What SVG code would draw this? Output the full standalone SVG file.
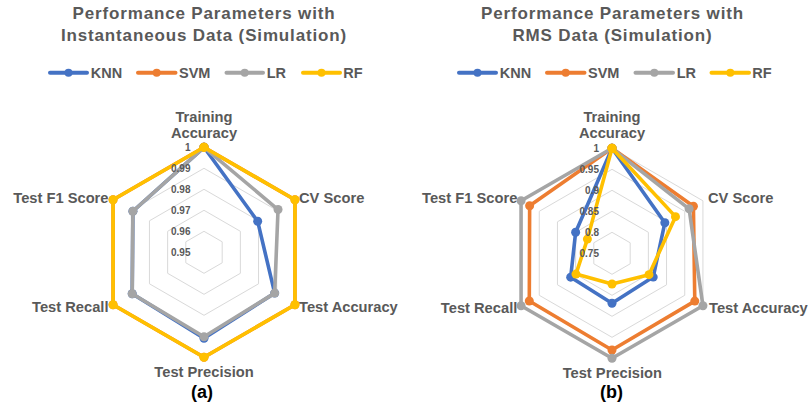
<svg xmlns="http://www.w3.org/2000/svg" width="808" height="410" viewBox="0 0 808 410">
<style>
text{font-family:"Liberation Sans",Arial,Helvetica,sans-serif;font-weight:bold;fill:#595959}
.title{font-size:17px;letter-spacing:0.85px;text-anchor:middle}
.leg{font-size:14.5px}
.ax{font-size:14.7px}
.mid{text-anchor:middle}
.end{text-anchor:end}
.tick{font-size:10px;text-anchor:end;dominant-baseline:central}
.cap{font-size:18px;fill:#000;text-anchor:middle}
.ring{fill:none;stroke:#D9D9D9;stroke-width:1}
.s{fill:none;stroke-width:3.6;stroke-linejoin:round}
.knn{stroke:#4472C4;marker-start:url(#m-knn);marker-mid:url(#m-knn);marker-end:url(#m-knn)}
.svm{stroke:#ED7D31;marker-start:url(#m-svm);marker-mid:url(#m-svm);marker-end:url(#m-svm)}
.lr{stroke:#A5A5A5;marker-start:url(#m-lr);marker-mid:url(#m-lr);marker-end:url(#m-lr)}
.rf{stroke:#FFC000;marker-start:url(#m-rf);marker-mid:url(#m-rf);marker-end:url(#m-rf)}
.ll{stroke-width:4;stroke-linecap:round}
</style>
<defs>
<marker id="m-knn" markerWidth="10" markerHeight="10" refX="5" refY="5" markerUnits="userSpaceOnUse" overflow="visible"><circle cx="5" cy="5" r="4.5" fill="#4472C4"/></marker>
<marker id="m-svm" markerWidth="10" markerHeight="10" refX="5" refY="5" markerUnits="userSpaceOnUse" overflow="visible"><circle cx="5" cy="5" r="4.5" fill="#ED7D31"/></marker>
<marker id="m-lr" markerWidth="10" markerHeight="10" refX="5" refY="5" markerUnits="userSpaceOnUse" overflow="visible"><circle cx="5" cy="5" r="4.5" fill="#A5A5A5"/></marker>
<marker id="m-rf" markerWidth="10" markerHeight="10" refX="5" refY="5" markerUnits="userSpaceOnUse" overflow="visible"><circle cx="5" cy="5" r="4.5" fill="#FFC000"/></marker>
<g id="rings">
<polygon class="ring" points="0,-21 18.19,-10.5 18.19,10.5 0,21 -18.19,10.5 -18.19,-10.5"/>
<polygon class="ring" points="0,-42 36.37,-21 36.37,21 0,42 -36.37,21 -36.37,-21"/>
<polygon class="ring" points="0,-63 54.56,-31.5 54.56,31.5 0,63 -54.56,31.5 -54.56,-31.5"/>
<polygon class="ring" points="0,-84 72.75,-42 72.75,42 0,84 -72.75,42 -72.75,-42"/>
<polygon class="ring" points="0,-105 90.93,-52.5 90.93,52.5 0,105 -90.93,52.5 -90.93,-52.5"/>
</g>
</defs>
<rect width="808" height="410" fill="#fff"/>

<!-- Chart (a) -->
<g id="chart-a">
<g id="title-a">
<text class="title" x="204" y="19">Performance Parameters with</text>
<text class="title" x="204" y="40.5">Instantaneous Data (Simulation)</text>
</g>
<g id="legend-a">
<line class="ll" x1="50" y1="72.7" x2="87" y2="72.7" stroke="#4472C4"/><circle cx="68.5" cy="72.7" r="4" fill="#4472C4"/><text class="leg" x="90.7" y="78">KNN</text>
<line class="ll" x1="138" y1="72.7" x2="175.5" y2="72.7" stroke="#ED7D31"/><circle cx="156.7" cy="72.7" r="4" fill="#ED7D31"/><text class="leg" x="179" y="78">SVM</text>
<line class="ll" x1="226.5" y1="72.7" x2="263" y2="72.7" stroke="#A5A5A5"/><circle cx="244.7" cy="72.7" r="4" fill="#A5A5A5"/><text class="leg" x="266.7" y="78">LR</text>
<line class="ll" x1="303" y1="72.7" x2="340" y2="72.7" stroke="#FFC000"/><circle cx="321.5" cy="72.7" r="4" fill="#FFC000"/><text class="leg" x="343.3" y="78">RF</text>
</g>
<g id="axis-labels-a">
<text class="ax mid" x="204" y="121.7">Training</text>
<text class="ax mid" x="204" y="137.7">Accuracy</text>
<text class="ax" x="299" y="202.5">CV Score</text>
<text class="ax" x="299" y="312">Test Accuracy</text>
<text class="ax mid" x="204" y="376.5">Test Precision</text>
<text class="ax end" x="108.5" y="312">Test Recall</text>
<text class="ax end" x="108.5" y="202.5">Test F1 Score</text>
</g>
<g transform="translate(204,252.3)">
<use href="#rings"/>
<g id="series-a">
<polygon id="a-knn" class="s knn" points="0,-105 53.69,-31 70.67,40.8 0,86 -71.79,41.45 -71.10,-41.05"/>
<polygon id="a-svm" class="s svm" points="0,-105 90.93,-52.5 90.93,52.5 0,105 -90.93,52.5 -90.93,-52.5"/>
<polygon id="a-lr" class="s lr" points="0,-105 74.04,-42.75 70.67,40.8 0,84.4 -71.79,41.45 -71.10,-41.05"/>
<polygon id="a-rf" class="s rf" points="0,-105 90.93,-52.5 90.93,52.5 0,105 -90.93,52.5 -90.93,-52.5"/>
</g>
<g id="ticks-a">
<text class="tick" x="-13.5" y="-105">1</text>
<text class="tick" x="-13.5" y="-84">0.99</text>
<text class="tick" x="-13.5" y="-63">0.98</text>
<text class="tick" x="-13.5" y="-42">0.97</text>
<text class="tick" x="-13.5" y="-21">0.96</text>
<text class="tick" x="-13.5" y="0">0.95</text>
</g>
</g>
<text class="cap" x="202" y="397.5">(a)</text>
</g>

<!-- Chart (b) -->
<g id="chart-b">
<g id="title-b">
<text class="title" x="612.5" y="19">Performance Parameters with</text>
<text class="title" x="612.5" y="40.5">RMS Data (Simulation)</text>
</g>
<g id="legend-b">
<line class="ll" x1="459" y1="72.7" x2="496" y2="72.7" stroke="#4472C4"/><circle cx="477.5" cy="72.7" r="4" fill="#4472C4"/><text class="leg" x="499.7" y="78">KNN</text>
<line class="ll" x1="547" y1="72.7" x2="584.5" y2="72.7" stroke="#ED7D31"/><circle cx="565.7" cy="72.7" r="4" fill="#ED7D31"/><text class="leg" x="588" y="78">SVM</text>
<line class="ll" x1="635.5" y1="72.7" x2="673" y2="72.7" stroke="#A5A5A5"/><circle cx="654.3" cy="72.7" r="4" fill="#A5A5A5"/><text class="leg" x="676.7" y="78">LR</text>
<line class="ll" x1="711.5" y1="72.7" x2="749" y2="72.7" stroke="#FFC000"/><circle cx="730.3" cy="72.7" r="4" fill="#FFC000"/><text class="leg" x="752.3" y="78">RF</text>
</g>
<g id="axis-labels-b">
<text class="ax mid" x="612" y="121.7">Training</text>
<text class="ax mid" x="612" y="137.7">Accuracy</text>
<text class="ax" x="708" y="203">CV Score</text>
<text class="ax" x="709" y="313">Test Accuracy</text>
<text class="ax mid" x="612.3" y="378.3">Test Precision</text>
<text class="ax end" x="517.3" y="313">Test Recall</text>
<text class="ax end" x="517.3" y="203">Test F1 Score</text>
</g>
<g transform="translate(612,253.3)">
<use href="#rings"/>
<g id="series-b">
<polygon id="b-knn" class="s knn" points="0,-105 52.83,-30.5 41.22,23.8 0,50 -41.31,23.85 -36.37,-21"/>
<polygon id="b-svm" class="s svm" points="0,-105 81.41,-47 82.79,47.8 0,96.7 -82.71,47.75 -82.36,-47.55"/>
<polygon id="b-lr" class="s lr" points="0,-105 77.08,-44.5 90.93,52.5 0,105 -90.93,52.5 -90.93,-52.5"/>
<polygon id="b-rf" class="s rf" points="0,-105 63.48,-36.65 36.98,21.35 0,30.7 -36.03,20.8 -24.6,-14.2"/>
</g>
<g id="ticks-b">
<text class="tick" x="-13" y="-105">1</text>
<text class="tick" x="-13" y="-84">0.95</text>
<text class="tick" x="-13" y="-63">0.9</text>
<text class="tick" x="-13" y="-42">0.85</text>
<text class="tick" x="-13" y="-21">0.8</text>
<text class="tick" x="-13" y="0">0.75</text>
</g>
</g>
<text class="cap" x="611.5" y="398">(b)</text>
</g>
</svg>
